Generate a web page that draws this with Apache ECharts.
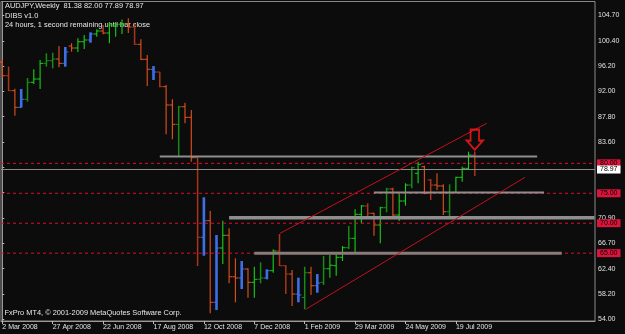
<!DOCTYPE html>
<html><head><meta charset="utf-8">
<script src="https://cdn.jsdelivr.net/npm/echarts@6/dist/echarts.min.js"></script>
<style>html,body{margin:0;padding:0;background:#0c0c0c;}#c{width:625px;height:334px;}</style>
</head><body><div id="c"></div>
<script>
// Weekly AUDJPY bars, index 0 = week of 2 Mar 2008
const barOpen  = [96.93,94.64,92.14,89.36,90.70,93.54,94.09,96.71,97.15,97.43,96.71,99.60,99.27,100.32,100.61,101.61,102.11,101.78,103.11,103.25,103.28,102.78,99.89,97.38,95.71,95.26,92.81,89.75,86.52,89.46,87.69,80.94,67.65,70.42,56.79,65.86,67.98,61.06,60.85,62.35,60.13,60.63,60.85,62.07,65.36,62.90,61.51,58.17,57.60,61.73,59.56,60.13,62.40,62.90,64.31,65.91,67.48,71.49,72.88,71.66,69.70,72.59,75.72,71.37,73.71,76.38,78.34,79.44,77.22,76.38,76.22,71.92,75.16,77.67,79.17,81.38];
const barHigh  = [97.38,96.15,92.47,92.42,94.26,95.71,97.27,98.39,98.49,99.60,99.44,100.06,100.89,101.44,101.89,102.39,103.11,103.61,103.40,104.03,104.23,103.28,100.72,98.10,96.26,95.31,93.09,90.70,89.58,90.13,88.91,80.94,74.33,72.04,68.03,70.42,69.15,64.14,63.69,62.47,62.73,63.47,62.30,65.64,68.20,62.98,62.18,60.90,62.73,62.73,61.51,64.52,64.69,64.81,66.19,69.53,72.32,73.04,73.33,71.75,72.76,75.93,75.93,75.00,76.67,79.44,80.28,79.61,77.39,78.34,76.50,76.50,77.77,79.44,81.95,82.00];
const barLow   = [94.31,92.09,87.96,89.30,90.30,93.26,92.42,96.15,95.88,96.05,96.15,98.65,98.60,99.10,100.16,101.16,101.56,100.06,101.16,101.61,101.78,99.77,97.27,92.92,93.92,92.71,84.85,84.02,81.23,86.69,80.28,62.85,64.57,54.95,55.50,63.19,59.96,56.79,59.01,57.56,57.56,59.96,60.63,61.73,62.85,58.17,56.17,56.79,55.62,58.01,58.39,59.68,60.90,61.23,63.69,65.69,64.86,69.99,70.82,67.91,66.64,71.82,70.70,70.37,72.93,75.83,76.67,74.83,73.88,75.55,71.37,70.70,75.00,76.93,78.89,77.89];
const barClose = [94.64,92.14,89.36,90.70,93.54,94.09,96.71,97.15,97.43,96.71,98.60,99.27,100.32,100.61,101.61,102.11,101.78,103.11,103.25,103.28,102.78,99.89,97.38,95.71,95.26,92.81,89.75,86.52,89.46,87.69,80.94,67.65,70.42,56.79,65.86,67.98,61.06,60.85,62.35,60.13,60.63,60.85,62.07,65.36,62.90,61.51,58.17,58.01,61.73,59.56,60.01,62.40,62.98,64.31,65.91,67.48,71.49,72.88,71.66,69.70,72.59,75.72,71.37,73.71,76.38,79.27,79.84,75.00,76.38,76.22,71.92,75.16,77.67,79.17,81.38,78.97];
// bar paint kind: g bright green, dg dark green, o orange, dr dark red, b blue (indicator)
const barKind  = ['o','dr','o','b','dg','g','g','dg','dg','o','b','o','g','g','b','g','o','g','g','g','o','dr','o','o','b','dr','o','o','dg','o','o','dr','b','o','b','g','o','o','b','o','g','dg','b','g','dr','dr','o','b','dg','o','b','dg','g','g','g','dg','g','g','dr','o','g','dg','o','g','g','dg','g','o','dr','o','o','dg','g','g','g','dr'];

const dateLabels   = ['2 Mar 2008','27 Apr 2008','22 Jun 2008','17 Aug 2008','12 Oct 2008','7 Dec 2008','1 Feb 2009','29 Mar 2009','24 May 2009','19 Jul 2009'];
const dateLabelIdx = [0,8,16,24,32,40,48,56,64,72];
const yTickValues  = [54.00,58.20,62.40,66.70,70.90,75.10,79.30,83.60,87.80,92.00,96.20,100.40,104.70];
const yTickLabels  = ['54.00','58.20','62.40','66.70','70.90','','','83.60','87.80','92.00','96.20','100.40','104.70'];

const levelPrices = [80.00,75.00,70.00,65.00];
const lastPrice = 78.97;
// drawn horizontal support/resistance objects
const srPrice = [81.15,75.15,70.90,65.00];
const srFrom  = [25.0,59.0,36.0,40.0];
const srTo    = [84.9,86.0,94.0,88.8];
// channel lines (bar index, price)
const channelUpper = [[44.08,68.31],[76.89,86.69]];
const channelLower = [[48.16,55.62],[82.97,77.67]];
const arrowAt = [75,83.95];

const titleText = 'AUDJPY,Weekly  81.38 82.00 77.89 78.97';
const indText = 'DIBS v1.0';
const timerText = '24 hours, 1 second remaining until bar close';
const copyText = 'FxPro MT4, \u00a9 2001-2009 MetaQuotes Software Corp.';

const kindColor = {g:'#14d214', dg:'#178a17', o:'#e6521c', dr:'#a8361a', b:'#3f6fe4'};
const FONT = '"Liberation Sans", Arial, sans-serif';
const X_MIN = -0.206, X_MAX = 94.08;

const chart = echarts.init(document.getElementById('c'), null, {renderer:'canvas'});
const ohlc = barOpen.map((o,i)=>[i,o,barHigh[i],barLow[i],barClose[i]]);

const srLineWidth = [2,2,3.5,3];
const srColor = ['#8e8e8e','#8e8e8e','#8e8e8e','#8a7a7a'];

const endBox = (txt,bg)=>({show:true,distance:2,formatter:txt,backgroundColor:bg,color:'#000',fontSize:7,fontFamily:FONT,padding:[1,3,0,3]});

const levelSeries = levelPrices.map(p=>({
  type:'line',z:3,symbol:'none',silent:true,
  data:[[X_MIN,p],[X_MAX,p]],
  lineStyle:{color:'#d8102e',type:[3,3],width:1},
  endLabel:endBox(p.toFixed(2),'#dc143c')
}));
const lastSeries = {type:'line',z:3,symbol:'none',silent:true,
  data:[[X_MIN,lastPrice],[X_MAX,lastPrice]],
  lineStyle:{color:'#8c8c8c',type:'solid',width:1},
  endLabel:endBox(lastPrice.toFixed(2),'#ffffff')};
const srSeries = srPrice.map((p,k)=>({
  type:'line',z:4,symbol:'none',silent:true,
  data:[[srFrom[k],p],[srTo[k],p]],
  lineStyle:{color:srColor[k],width:srLineWidth[k]}
}));

chart.setOption({
  backgroundColor:'#0c0c0c',
  animation:false,
  grid:{left:1,top:1.5,right:30,bottom:13,show:true,borderColor:'#8a8a8a',borderWidth:1,backgroundColor:'transparent',containLabel:false,outerBoundsMode:'none'},
  xAxis:{type:'value',min:X_MIN,max:X_MAX,
    axisLine:{show:true,lineStyle:{color:'#9a9a9a'}},
    splitLine:{show:false},
    axisTick:{show:true,customValues:dateLabelIdx,length:3,lineStyle:{color:'#bbbbbb'}},
    axisLabel:{customValues:dateLabelIdx,align:'left',margin:3,color:'#e2e2e2',fontSize:7,fontFamily:FONT,
      formatter:v=>dateLabels[dateLabelIdx.indexOf(Math.round(v))]||''}},
  yAxis:{type:'value',position:'right',min:53.666,max:107.04,
    axisLine:{show:true,lineStyle:{color:'#9a9a9a'}},
    splitLine:{show:false},
    axisTick:{show:true,customValues:yTickValues,length:2,lineStyle:{color:'#bbbbbb'}},
    axisLabel:{customValues:yTickValues,margin:3,color:'#e2e2e2',fontSize:7,fontFamily:FONT,
      formatter:v=>{const k=yTickValues.findIndex(t=>Math.abs(t-v)<1e-6);return k>=0?yTickLabels[k]:'';}}},
  graphic:[
    {type:'text',left:5,top:2.5,style:{text:titleText,fill:'#e8e8e8',font:'7.4px '+FONT}},
    {type:'text',left:5,top:12,style:{text:indText,fill:'#e8e8e8',font:'7.4px '+FONT}},
    {type:'text',left:5,top:21.5,style:{text:timerText,fill:'#e8e8e8',font:'7.4px '+FONT}},
    {type:'text',left:4.5,top:309.5,style:{text:copyText,fill:'#e8e8e8',font:'7.4px '+FONT}}
  ],
  series:[
    {type:'custom',name:'bars',z:2,data:ohlc,encode:{x:0,y:[1,2,3,4]},silent:true,
      renderItem:function(params,api){
        const i=api.value(0);
        const h=api.coord([i,api.value(2)]);
        const l=api.coord([i,api.value(3)]);
        const o=api.coord([i,api.value(1)]);
        const c=api.coord([i,api.value(4)]);
        const k=barKind[params.dataIndex];
        const col=kindColor[k];
        const w=k==='b'?2.6:(k==='dr'||k==='dg'?1.5:1.1);
        const x=h[0];
        return {type:'group',children:[
          {type:'line',shape:{x1:x,y1:h[1],x2:x,y2:l[1]},style:{stroke:col,lineWidth:w}},
          {type:'line',shape:{x1:x-3,y1:o[1],x2:x,y2:o[1]},style:{stroke:col,lineWidth:1}},
          {type:'line',shape:{x1:x,y1:c[1],x2:x+3,y2:c[1]},style:{stroke:col,lineWidth:1}}
        ]};
      }}
  ].concat(levelSeries,[lastSeries],srSeries,[
    {type:'line',name:'chanU',data:channelUpper,z:5,symbol:'none',silent:true,lineStyle:{color:'#c4101c',width:1}},
    {type:'line',name:'chanL',data:channelLower,z:5,symbol:'none',silent:true,lineStyle:{color:'#c4101c',width:1}},
    {type:'scatter',name:'arrow',z:6,data:[arrowAt],silent:true,
      symbol:'path://M4,0 L13,0 L13,11.4 L17,11.4 L8.5,20.7 L0,11.4 L4,11.4 Z',symbolSize:[16,20],
      itemStyle:{color:'rgba(0,0,0,0)',borderColor:'#ff1a1a',borderWidth:2}}
  ])
});
</script></body></html>
